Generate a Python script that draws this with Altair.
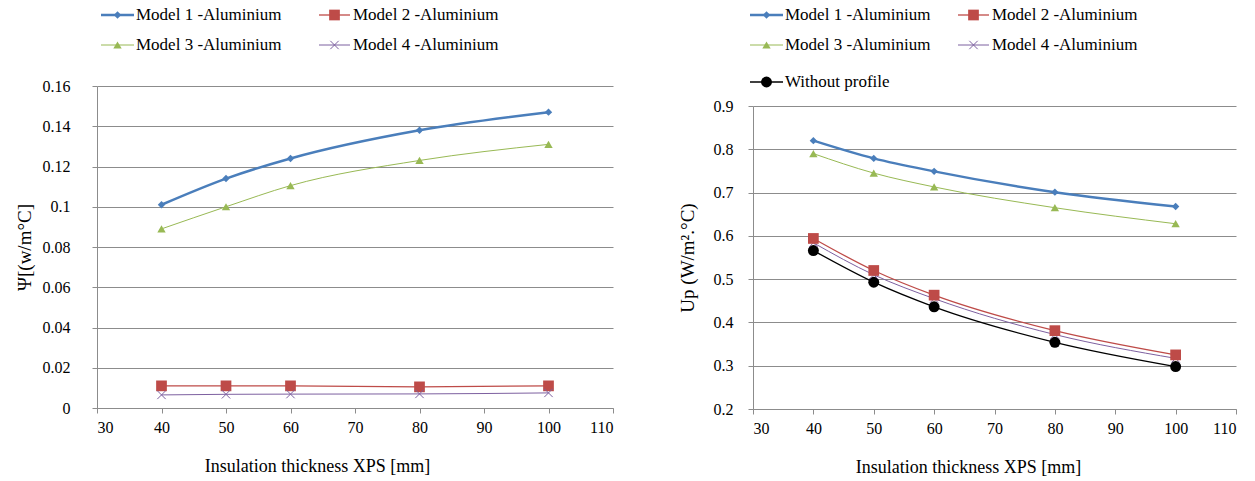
import altair as alt
import pandas as pd

# ---------------- data ----------------
thickness = [40, 50, 60, 80, 100]

series_names = ["Model 1 -Aluminium", "Model 2 -Aluminium", "Model 3 -Aluminium",
                "Model 4 -Aluminium", "Without profile"]

# Left panel: linear thermal transmittance Psi
psi_m1 = [0.101, 0.114, 0.124, 0.138, 0.147]
psi_m2 = [0.011, 0.011, 0.011, 0.0105, 0.011]
psi_m3 = [0.089, 0.100, 0.1105, 0.123, 0.131]
psi_m4 = [0.0065, 0.0068, 0.0069, 0.007, 0.0075]

# Right panel: Up
up_m1 = [0.820, 0.779, 0.749, 0.701, 0.668]
up_m2 = [0.594, 0.520, 0.463, 0.381, 0.325]
up_m3 = [0.790, 0.745, 0.713, 0.665, 0.628]
up_m4 = [0.584, 0.510, 0.455, 0.372, 0.317]
up_wo = [0.566, 0.493, 0.436, 0.354, 0.298]

x_ticks = [30, 40, 50, 60, 70, 80, 90, 100, 110]
psi_ticks = [0, 0.02, 0.04, 0.06, 0.08, 0.1, 0.12, 0.14, 0.16]
up_ticks = [0.2, 0.3, 0.4, 0.5, 0.6, 0.7, 0.8, 0.9]

# ---------------- styles ----------------
FONT = "Liberation Serif"
GRID = "#8c8c8c"
X_SHAPE = "M-1,-1L1,1M-1,1L1,-1"
styles = {
    "Model 1 -Aluminium": dict(color="#4A7EBB", width=2.5, shape="diamond", size=55, filled=True),
    "Model 2 -Aluminium": dict(color="#BE4B48", width=1.3, shape="square", size=115, filled=True),
    "Model 3 -Aluminium": dict(color="#98B954", width=1.0, shape="triangle-up", size=70, filled=True),
    "Model 4 -Aluminium": dict(color="#7D60A0", width=1.0, shape=X_SHAPE, size=70, filled=False),
    "Without profile": dict(color="#000000", width=1.3, shape="circle", size=120, filled=True),
}


def point_mark(st):
    if st["filled"]:
        return dict(shape=st["shape"], size=st["size"], filled=True, color=st["color"], opacity=1)
    return dict(shape=st["shape"], size=st["size"], filled=False, color=st["color"],
                strokeWidth=1, opacity=1)


def series_layers(values, name, xenc, yenc):
    st = styles[name]
    df = pd.DataFrame({"x": thickness, "y": values})
    line = alt.Chart(df).mark_line(color=st["color"], strokeWidth=st["width"],
                                   interpolate="monotone").encode(x=xenc, y=yenc)
    pt = alt.Chart(df).mark_point(**point_mark(st)).encode(x=xenc, y=yenc)
    return [line, pt]


def legend_chart(items, width, height):
    one = pd.DataFrame({"a": [0]})
    out = []
    for name, x0, x1, tx, yv in items:
        st = styles[name]
        out.append(alt.Chart(one).mark_rule(color=st["color"], strokeWidth=st["width"]).encode(
            x=alt.value(x0), x2=alt.value(x1), y=alt.value(yv)))
        out.append(alt.Chart(one).mark_point(**point_mark(st)).encode(
            x=alt.value((x0 + x1) / 2), y=alt.value(yv)))
        out.append(alt.Chart(one).mark_text(text=name, align="left", baseline="middle",
                                            font=FONT, fontSize=17, color="#000").encode(
            x=alt.value(tx), y=alt.value(yv)))
    return alt.layer(*out).properties(width=width, height=height)


def x_enc(title_x):
    return alt.X("x:Q", scale=alt.Scale(domain=[30, 110], nice=False),
                 axis=alt.Axis(values=x_ticks, title="Insulation thickness XPS  [mm]",
                               grid=False, tickSize=5, labelPadding=6, titlePadding=22,
                               titleFontSize=18, titleX=title_x, titleAlign="center",
                               format="d"))


# ---------------- left panel ----------------
yl = alt.Y("y:Q", scale=alt.Scale(domain=[0, 0.16], nice=False),
           axis=alt.Axis(values=psi_ticks, title="Ψ[(w/m°C]", format="~g",
                         grid=True, tickSize=5, labelPadding=22, titlePadding=8,
                         titleFontSize=19))
xl = x_enc(220)
left_layers = []
for vals, nm in [(psi_m2, series_names[1]), (psi_m4, series_names[3]),
                 (psi_m3, series_names[2]), (psi_m1, series_names[0])]:
    left_layers += series_layers(vals, nm, xl, yl)
left_plot = alt.layer(*left_layers).properties(width=516, height=322)
left_leg = legend_chart([
    (series_names[0], 4, 37, 39, 10),
    (series_names[1], 222, 253, 256, 10),
    (series_names[2], 4, 37, 39, 40),
    (series_names[3], 222, 253, 256, 40),
], 516, 72)
left = alt.vconcat(left_leg, left_plot, spacing=1)

# ---------------- right panel ----------------
yr = alt.Y("y:Q", scale=alt.Scale(domain=[0.2, 0.9], nice=False),
           axis=alt.Axis(values=up_ticks, title="Up (W/m².°C)", format="~g",
                         grid=True, tickSize=5, labelPadding=15, titlePadding=16,
                         titleFontSize=19))
xr = x_enc(215)
right_layers = []
for vals, nm in [(up_wo, series_names[4]), (up_m4, series_names[3]), (up_m2, series_names[1]),
                 (up_m3, series_names[2]), (up_m1, series_names[0])]:
    right_layers += series_layers(vals, nm, xr, yr)
right_plot = alt.layer(*right_layers).properties(width=483, height=303)
right_leg = legend_chart([
    (series_names[0], -3, 30, 32, 10),
    (series_names[1], 205, 236, 239, 10),
    (series_names[2], -3, 30, 32, 40),
    (series_names[3], 205, 236, 239, 40),
    (series_names[4], -3, 30, 32, 77),
], 483, 92)
right = alt.vconcat(right_leg, right_plot, spacing=1)

chart = alt.hconcat(left, right, spacing=64).properties(
    padding={"left": 15, "top": 5, "right": 5, "bottom": 5},
    background="white",
).configure_view(stroke=None).configure_axis(
    labelFont=FONT, titleFont=FONT, labelFontSize=16, titleFontSize=16,
    labelColor="#000", titleColor="#000", titleFontWeight="normal",
    domainColor=GRID, tickColor=GRID, gridColor=GRID, gridWidth=1, domainWidth=1,
)

chart.save("out.html", embed_options={"renderer": "svg", "actions": False})
